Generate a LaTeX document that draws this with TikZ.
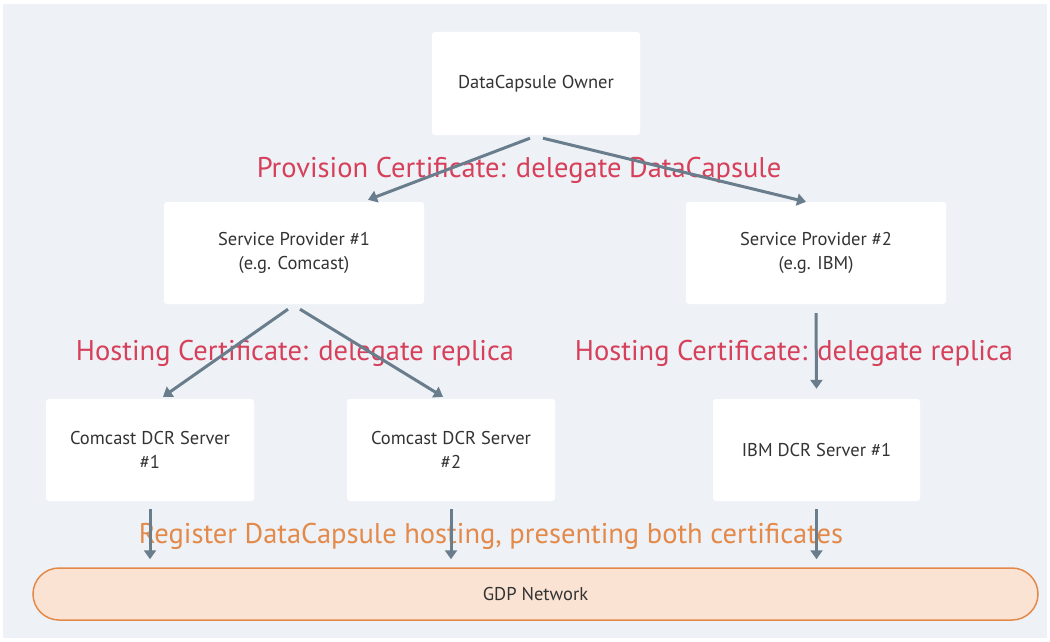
\documentclass[tikz,border=0pt]{standalone}
\usepackage{fontspec}
\setmainfont{PT Sans}
\usetikzlibrary{arrows.meta}
\definecolor{bgc}{HTML}{EEF2F6}
\definecolor{arrc}{HTML}{6A7D8C}
\definecolor{redc}{HTML}{D6405A}
\definecolor{orc}{HTML}{E3894A}
\definecolor{gdpfill}{HTML}{FBE3D3}
\definecolor{txtc}{HTML}{333333}
\tikzset{
  box/.style={draw=none, fill=white, rounded corners=3pt, align=center, text=txtc,
    font=\fontsize{18.5}{24}\selectfont, inner sep=0pt},
  arr/.style={draw=arrc, line width=3pt, -{Triangle[length=9pt,width=12pt]}},
  lbl/.style={font=\fontsize{28.5}{32}\selectfont, inner sep=0pt},
}
\begin{document}
\begin{tikzpicture}[x=1pt,y=-1pt]
\useasboundingbox (0,0) rectangle (1050,642);
\fill[white] (0,0) rectangle (1050,642);
\fill[bgc] (3,4) rectangle (1047,638);
% nodes
\node[box, minimum width=208pt, minimum height=103pt] (own) at (536,83.5) {DataCapsule Owner};
\node[box, minimum width=260pt, minimum height=102pt] (sp1) at (294,253) {Service Provider \#1\\(e.g. Comcast)};
\node[box, minimum width=260pt, minimum height=102pt] (sp2) at (816,253) {Service Provider \#2\\(e.g. IBM)};
\node[box, minimum width=208pt, minimum height=102pt] (c1) at (150,450) {Comcast DCR Server\\\#1};
\node[box, minimum width=208pt, minimum height=102pt] (c2) at (451,450) {Comcast DCR Server\\\#2};
\node[box, minimum width=207pt, minimum height=102pt] (ibm) at (816.5,450) {IBM DCR Server \#1};
\node[draw=orc, line width=1.5pt, fill=gdpfill, rounded corners=26pt, minimum width=1005pt, minimum height=52pt,
  text=txtc, font=\fontsize{18.5}{22}\selectfont] (gdp) at (535.5,594) {GDP Network};
% labels
\node[lbl, text=redc] (l1) at (519,170) {Provision Certificate: delegate DataCapsule};
\node[lbl, text=redc] (l2) at (295,353) {Hosting Certificate: delegate replica};
\node[lbl, text=redc] (l3) at (794,353) {Hosting Certificate: delegate replica};
\node[lbl, text=orc] (l4) at (491,536) {Register DataCapsule hosting, presenting both certificates};
% arrows
\draw[arr] ([xshift=-6pt,yshift=-3pt]own.south) -- ([xshift=74pt,yshift=2pt]sp1.north);
\draw[arr] ([xshift=7pt,yshift=-3pt]own.south) -- ([xshift=-10pt]sp2.north);
\draw[arr] ([xshift=-6pt,yshift=-5pt]sp1.south) -- ([xshift=13pt,yshift=2pt]c1.north);
\draw[arr] ([xshift=6pt,yshift=-5pt]sp1.south) -- ([xshift=-8pt,yshift=2pt]c2.north);
\draw[arr] ([yshift=-9pt]sp2.south) -- ([yshift=10pt]ibm.north);
\draw[arr] ([yshift=-8pt]c1.south) -- ([yshift=8pt]c1.south |- gdp.north);
\draw[arr] ([yshift=-8pt]c2.south) -- ([yshift=8pt]c2.south |- gdp.north);
\draw[arr] ([yshift=-8pt]ibm.south) -- ([yshift=8pt]ibm.south |- gdp.north);
\end{tikzpicture}
\end{document}
